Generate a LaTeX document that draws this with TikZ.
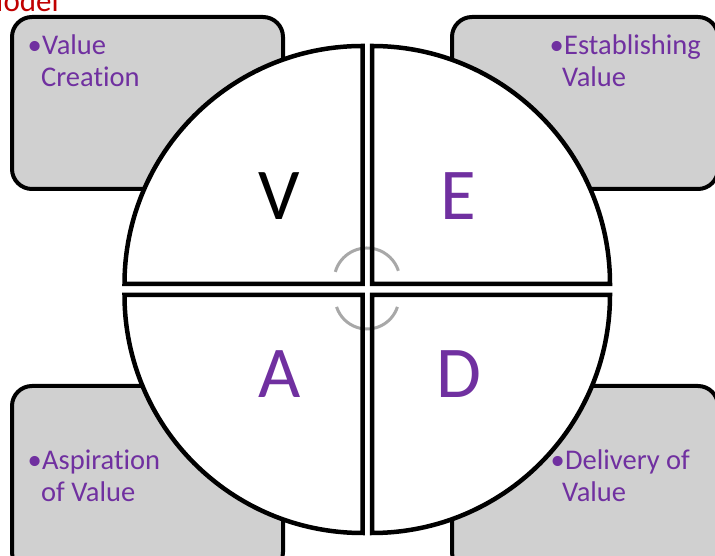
\documentclass[tikz,border=0pt]{standalone}
\usepackage{fontspec}
\setmainfont{Carlito}[RawFeature=-liga]
\definecolor{vpurple}{RGB}{112,48,160}
\definecolor{vred}{RGB}{192,0,0}
\definecolor{boxgray}{RGB}{208,208,208}
\definecolor{arcgray}{RGB}{168,168,168}
\begin{document}
\begin{tikzpicture}[x=1pt,y=1pt,
  infobox/.style={draw=black,line width=4pt,fill=boxgray,rounded corners=20pt},
  quadfill/.style={fill=white},
  quadline/.style={draw=black,line width=4.5pt},
  boxtext/.style={anchor=base west,inner sep=0pt,text=vpurple,font=\fontsize{28.5}{32}\selectfont},
  bullettext/.style={anchor=base east,inner sep=0pt,text=vpurple,font=\fontsize{28.5}{32}\selectfont},
  bigletter/.style={anchor=base,inner sep=0pt,font=\fontsize{73}{80}\selectfont},
  cyclearc/.style={draw=arcgray,line width=3pt}]
\useasboundingbox (0,0) rectangle (715,556);
\fill[white] (0,0) rectangle (715,556);
% title fragment
\node[anchor=base east,inner sep=0pt,text=vred,font=\fontsize{31}{36}\selectfont] (title) at (59,544) {Model};
% boxes
\draw[infobox] (12,367) rectangle (283,539);
\draw[infobox] (452,367) rectangle (718,539);
\draw[infobox] (12,-16) rectangle (283,170);
\draw[infobox] (452,-16) rectangle (718,170);
% quadrant fills
\fill[quadfill] (362.5,272) -- (124.5,272) arc (180:90:238) -- cycle;
\fill[quadfill] (372,272) -- (372,510) arc (90:0:238) -- cycle;
\fill[quadfill] (362.5,261) -- (362.5,23) arc (270:180:238) -- cycle;
\fill[quadfill] (372,261) -- (610,261) arc (0:-90:238) -- cycle;
% cycle arcs
\coordinate (arcA) at (335.28,284.1);
\coordinate (arcB) at (397.43,249.11);
\draw[cyclearc] (arcA) arc (164:18:33);
\draw[cyclearc] (arcB) arc (342:198:32);
% quadrant outlines
\draw[quadline] (362.5,272) -- (124.5,272) arc (180:90:238) -- cycle;
\draw[quadline] (372,272) -- (372,510) arc (90:0:238) -- cycle;
\draw[quadline] (362.5,261) -- (362.5,23) arc (270:180:238) -- cycle;
\draw[quadline] (372,261) -- (610,261) arc (0:-90:238) -- cycle;
% big letters
\node[bigletter,text=black] (V) at (279.5,336) {V};
\node[bigletter,text=vpurple] (E) at (458,336) {E};
\node[bigletter,text=vpurple] (A) at (279.5,158) {A};
\node[bigletter,text=vpurple] (D) at (458.5,158) {D};
% box texts
\node[boxtext] (tl1) at (42,501) {Value};
\node[bullettext] (tlb) at (tl1.base west) {•};
\node[boxtext] (tl2) at (41,469) {Creation};
\node[boxtext] (tr1) at (564,501) {Establishing};
\node[bullettext] (trb) at (tr1.base west) {•};
\node[boxtext] (tr2) at (562,469) {Value};
\node[boxtext] (bl1) at (42,86) {Aspiration};
\node[bullettext] (blb) at (bl1.base west) {•};
\node[boxtext] (bl2) at (41,54) {of Value};
\node[boxtext] (br1) at (565,86) {Delivery of};
\node[bullettext] (brb) at (br1.base west) {•};
\node[boxtext] (br2) at (562,54) {Value};
\end{tikzpicture}
\end{document}
